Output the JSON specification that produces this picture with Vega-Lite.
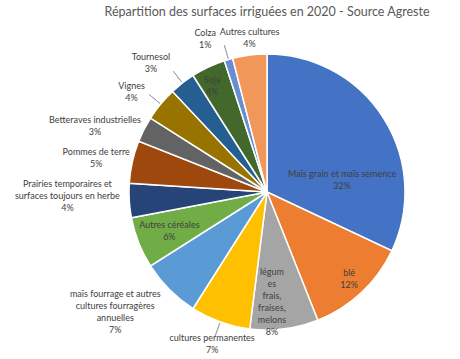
{
  "$schema": "https://vega.github.io/schema/vega-lite/v6.json",
  "width": 380,
  "height": 324,
  "autosize": {"type": "none"},
  "padding": {"left": 77, "top": 30, "right": 3, "bottom": 5},
  "background": "white",
  "title": {"text": "Répartition des surfaces irriguées en 2020 - Source Agreste", "font": "Lato", "fontSize": 12.5, "fontWeight": "normal", "color": "#595959", "anchor": "middle", "frame": "group", "offset": -55},
  "config": {"view": {"stroke": null}, "text": {"font": "Lato", "fontSize": 9, "color": "#404040", "lineBreak": "\n", "lineHeight": 12}},
  "data": {"values": [
    {"idx": 1, "cat": "Maïs grain et maïs semence", "value": 32, "label": "Maïs grain et maïs semence\n32%"},
    {"idx": 2, "cat": "blé", "value": 12, "label": "blé\n12%"},
    {"idx": 3, "cat": "légumes frais, fraises, melons", "value": 8, "label": "légum\nes\nfrais,\nfraises,\nmelons\n8%"},
    {"idx": 4, "cat": "cultures permanentes", "value": 7, "label": "cultures permanentes\n7%"},
    {"idx": 5, "cat": "maïs fourrage et autres cultures fourragères annuelles", "value": 7, "label": "maïs fourrage et autres\ncultures fourragères\nannuelles\n7%"},
    {"idx": 6, "cat": "Autres céréales", "value": 6, "label": "Autres céréales\n6%"},
    {"idx": 7, "cat": "Prairies temporaires et surfaces toujours en herbe", "value": 4, "label": "Prairies temporaires et\nsurfaces toujours en herbe\n4%"},
    {"idx": 8, "cat": "Pommes de terre", "value": 5, "label": "Pommes de terre\n5%"},
    {"idx": 9, "cat": "Betteraves industrielles", "value": 3, "label": "Betteraves industrielles\n3%"},
    {"idx": 10, "cat": "Vignes", "value": 4, "label": "Vignes\n4%"},
    {"idx": 11, "cat": "Tournesol", "value": 3, "label": "Tournesol\n3%"},
    {"idx": 12, "cat": "Soja", "value": 4, "label": "Soja\n4%"},
    {"idx": 13, "cat": "Colza", "value": 1, "label": "Colza\n1%"},
    {"idx": 14, "cat": "Autres cultures", "value": 4, "label": "Autres cultures\n4%"}
  ]},
  "encoding": {
    "theta": {"field": "value", "type": "quantitative", "stack": true},
    "order": {"field": "idx", "type": "quantitative"}
  },
  "layer": [
    {"mark": {"type": "arc", "outerRadius": 138, "stroke": "white", "strokeWidth": 1.5},
     "encoding": {"color": {"field": "cat", "type": "nominal", "legend": null,
       "scale": {"domain": ["Maïs grain et maïs semence", "blé", "légumes frais, fraises, melons", "cultures permanentes", "maïs fourrage et autres cultures fourragères annuelles", "Autres céréales", "Prairies temporaires et surfaces toujours en herbe", "Pommes de terre", "Betteraves industrielles", "Vignes", "Tournesol", "Soja", "Colza", "Autres cultures"],
                 "range": ["#4472C4", "#ED7D31", "#A5A5A5", "#FFC000", "#5B9BD5", "#70AD47", "#264478", "#9E480E", "#636363", "#997300", "#255E91", "#43682B", "#698ED0", "#F1975A"]}}}},
    {"mark": {"type": "arc", "innerRadius": 139, "outerRadius": 153, "padAngle": 1, "filled": false, "stroke": "#A6A6A6", "strokeWidth": 1},
     "encoding": {"strokeOpacity": {"condition": {"test": "datum.idx == 4 || datum.idx == 10 || datum.idx == 11 || datum.idx == 13", "value": 1}, "value": 0}}},
    {"mark": {"type": "text", "radius": 70, "dx": 16, "dy": 20}, "encoding": {"text": {"condition": {"test": "datum.idx == 1", "field": "label", "type": "nominal"}, "value": ""}}},
    {"mark": {"type": "text", "radius": 120, "dy": -6}, "encoding": {"text": {"condition": {"test": "datum.idx == 2", "field": "label", "type": "nominal"}, "value": ""}}},
    {"mark": {"type": "text", "radius": 111, "dx": -9, "dy": -30}, "encoding": {"text": {"condition": {"test": "datum.idx == 3", "field": "label", "type": "nominal"}, "value": ""}}},
    {"mark": {"type": "text", "radius": 162, "dy": -6}, "encoding": {"text": {"condition": {"test": "datum.idx == 4", "field": "label", "type": "nominal"}, "value": ""}}},
    {"mark": {"type": "text", "radius": 192, "dx": -16, "dy": -34}, "encoding": {"text": {"condition": {"test": "datum.idx == 5", "field": "label", "type": "nominal"}, "value": ""}}},
    {"mark": {"type": "text", "radius": 105, "dy": -6}, "encoding": {"text": {"condition": {"test": "datum.idx == 6", "field": "label", "type": "nominal"}, "value": ""}}},
    {"mark": {"type": "text", "radius": 200, "dy": -21}, "encoding": {"text": {"condition": {"test": "datum.idx == 7", "field": "label", "type": "nominal"}, "value": ""}}},
    {"mark": {"type": "text", "radius": 175, "dy": -2}, "encoding": {"text": {"condition": {"test": "datum.idx == 8", "field": "label", "type": "nominal"}, "value": ""}}},
    {"mark": {"type": "text", "radius": 183, "dx": -9, "dy": 11}, "encoding": {"text": {"condition": {"test": "datum.idx == 9", "field": "label", "type": "nominal"}, "value": ""}}},
    {"mark": {"type": "text", "radius": 168, "dx": -6, "dy": 1}, "encoding": {"text": {"condition": {"test": "datum.idx == 10", "field": "label", "type": "nominal"}, "value": ""}}},
    {"mark": {"type": "text", "radius": 173, "dx": -10, "dy": 2}, "encoding": {"text": {"condition": {"test": "datum.idx == 11", "field": "label", "type": "nominal"}, "value": ""}}},
    {"mark": {"type": "text", "radius": 117, "dx": -5, "dy": -6}, "encoding": {"text": {"condition": {"test": "datum.idx == 12", "field": "label", "type": "nominal"}, "value": ""}}},
    {"mark": {"type": "text", "radius": 164, "dx": -16, "dy": -2}, "encoding": {"text": {"condition": {"test": "datum.idx == 13", "field": "label", "type": "nominal"}, "value": ""}}},
    {"mark": {"type": "text", "radius": 155, "dx": 2, "dy": -6}, "encoding": {"text": {"condition": {"test": "datum.idx == 14", "field": "label", "type": "nominal"}, "value": ""}}}
  ]
}
